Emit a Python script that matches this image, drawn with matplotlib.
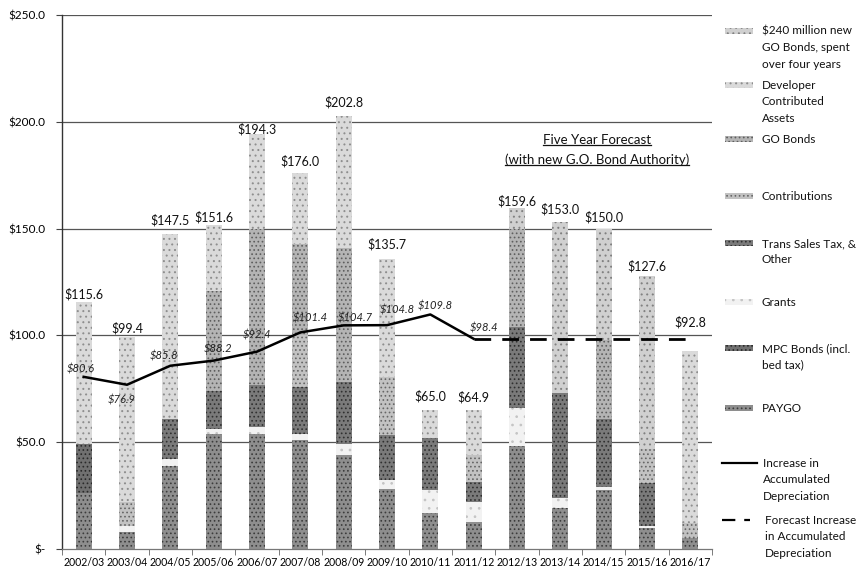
import matplotlib
matplotlib.use('Agg')
import matplotlib.pyplot as plt
from matplotlib.patches import Rectangle
from matplotlib.lines import Line2D
import numpy as np

plt.rcParams['font.family'] = ['Lato', 'DejaVu Sans']
plt.rcParams['hatch.linewidth'] = 0.7

# ---------------- data ----------------
years = ['2002/03', '2003/04', '2004/05', '2005/06', '2006/07', '2007/08', '2008/09',
         '2009/10', '2010/11', '2011/12', '2012/13', '2013/14', '2014/15', '2015/16', '2016/17']

paygo   = [26.0, 8.0, 39.0, 54.0, 54.0, 51.0, 44.0, 28.0, 17.0, 12.6, 48.0, 19.0, 27.6, 10.0, 5.0]
mpc     = [23.0, 0.0, 0.0, 0.0, 0.0, 0.0, 0.0, 0.0, 0.0, 0.0, 0.0, 0.0, 0.0, 0.0, 0.0]
grants  = [0.0, 2.7, 3.0, 2.0, 3.0, 3.0, 5.0, 4.5, 10.6, 9.4, 18.0, 5.0, 1.5, 1.0, 0.0]
trans   = [0.0, 0.0, 19.0, 18.0, 20.0, 22.0, 29.0, 21.0, 24.4, 9.3, 38.0, 49.0, 31.6, 20.0, 0.0]
contrib = [0.0, 11.3, 0.0, 0.0, 0.0, 24.0, 0.0, 27.0, 0.0, 12.7, 0.0, 0.0, 0.0, 16.0, 7.0]
gobonds = [0.0, 0.0, 0.0, 47.0, 73.0, 43.0, 63.0, 0.0, 0.0, 0.0, 45.6, 0.0, 37.0, 0.0, 0.0]
devel   = [66.6, 77.4, 86.5, 30.6, 44.3, 33.0, 61.8, 55.2, 13.0, 20.9, 0.0, 0.0, 0.0, 0.0, 80.8]
newgo   = [0.0, 0.0, 0.0, 0.0, 0.0, 0.0, 0.0, 0.0, 0.0, 0.0, 10.0, 80.0, 52.3, 80.6, 0.0]

depreciation = [80.6, 76.9, 85.8, 88.2, 92.4, 101.4, 104.7, 104.8, 109.8, 98.4]
forecast_years = ['2011/12', '2012/13', '2013/14', '2014/15', '2015/16', '2016/17']
forecast_depr = [98.4, 98.4, 98.4, 98.4, 98.4, 98.4]

ytick_vals = [0, 50, 100, 150, 200, 250]
ytick_labels = ['$-', '$50.0', '$100.0', '$150.0', '$200.0', '$250.0']

# ---------------- styles / layout ----------------
series = [
    ('PAYGO', paygo, '#8e8e8e', '#3c3c3c', '....'),
    ('MPC Bonds (incl.\nbed tax)', mpc, '#707070', '#2a2a2a', '....'),
    ('Grants', grants, '#f2f2f2', '#c4c4c4', '..'),
    ('Trans Sales Tax, &\nOther', trans, '#7a7a7a', '#303030', '....'),
    ('Contributions', contrib, '#c2c2c2', '#666666', '....'),
    ('GO Bonds', gobonds, '#b4b4b4', '#5e5e5e', '....'),
    ('Developer\nContributed\nAssets', devel, '#dadada', '#8e8e8e', '...'),
    ('$240 million new\nGO Bonds, spent\nover four years', newgo, '#d0d0d0', '#808080', '...'),
]

total_offsets = [8, 8, 14, 8, 5, 12, 14, 15, 14, 13, 7, 13, 11, 10, 29]
line_label_offsets = [(-3, 8), (-5, -15), (-6, 10), (4, 12), (0, 17),
                      (10, 14), (12, 7), (10, 15), (5, 8), (10, 11)]

W, H = 859, 572
fig = plt.figure(figsize=(W / 100, H / 100), dpi=100)
ax = fig.add_axes([62 / W, 1 - 549 / H, (712 - 62) / W, (549 - 15) / H])

x = np.arange(len(years))
bottom = np.zeros(len(years))
for name, vals, face, hcol, hatch in series:
    v = np.array(vals)
    ax.bar(x, v, 0.37, bottom=bottom, color=face, edgecolor=hcol, hatch=hatch,
           linewidth=0, zorder=2)
    bottom += v
totals = bottom

# lines
ax.plot(x[:len(depreciation)], depreciation, color='black', lw=1.8, zorder=4,
        solid_joinstyle='round')
fx = [years.index(y) for y in forecast_years]
ax.plot(fx, forecast_depr, color='black', lw=2.0, dashes=(6, 4), zorder=4)

# total labels
for xi, t, off in zip(x, totals, total_offsets):
    ax.annotate(f'${t:.1f}', (xi, t), xytext=(0, off), textcoords='offset pixels',
                ha='center', va='center', fontsize=9, color='#111111', zorder=5)

# depreciation labels
for xi, v, (dx, dy) in zip(x, depreciation, line_label_offsets):
    ax.annotate(f'${v:.1f}', (xi, v), xytext=(dx, dy), textcoords='offset pixels',
                ha='center', va='center', fontsize=8, style='italic', color='#222222', zorder=5)

# axes styling
ax.set_xlim(-0.5, len(years) - 0.5)
ax.set_ylim(0, 250)
ax.set_yticks(ytick_vals)
ax.set_yticklabels(ytick_labels, fontsize=8.5)
ax.set_xticks(x)
ax.set_xticklabels(years, fontsize=7.6)
ax.set_xticks(np.arange(-0.5, len(years), 1.0), minor=True)
ax.tick_params(axis='x', which='major', length=0, pad=6)
ax.tick_params(axis='x', which='minor', length=4, direction='out', color='#666666')
ax.tick_params(axis='y', length=4, direction='out', color='#444444', pad=8)
for yv in ytick_vals[1:]:
    ax.axhline(yv, color='#555555', lw=0.9, zorder=1)
ax.spines['top'].set_visible(False)
ax.spines['right'].set_visible(False)
ax.spines['left'].set_color('#333333')
ax.spines['left'].set_linewidth(1.0)
ax.spines['bottom'].set_color('#777777')
ax.spines['bottom'].set_linewidth(0.9)

# forecast annotation (underlined)
t1 = fig.text(597 / W, 1 - 140 / H, 'Five Year Forecast', ha='center', va='center',
              fontsize=9.5, color='#111111')
t2 = fig.text(597 / W, 1 - 160 / H, '(with new G.O. Bond Authority)', ha='center',
              va='center', fontsize=9.5, color='#111111')
fig.canvas.draw()
r = fig.canvas.get_renderer()
for t in (t1, t2):
    bb = t.get_window_extent(r)
    yline = bb.y0 + 1
    fig.add_artist(Line2D([bb.x0 / W, bb.x1 / W], [yline / H, yline / H],
                          transform=fig.transFigure, color='#111111', lw=0.9))

# legend (manual, right side)
LFS = 8.5
LSP = 1.6
legend_y = [31, 85, 139, 196, 243, 302, 348, 408, 463, 520]
legend_items = list(reversed(series))
for (name, vals, face, hcol, hatch), yy in zip(legend_items, legend_y[:8]):
    fig.add_artist(Rectangle((725 / W, 1 - (yy + 3) / H), 28 / W, 6 / H,
                             transform=fig.transFigure, facecolor=face, edgecolor=hcol,
                             hatch=hatch, linewidth=0))
    fig.text(762 / W, 1 - (yy - 5) / H, name, ha='left', va='top', fontsize=LFS,
             linespacing=LSP, color='#111111')

yy = legend_y[8]
fig.add_artist(Line2D([722 / W, 757 / W], [1 - yy / H] * 2, transform=fig.transFigure,
                      color='black', lw=1.6))
fig.text(763 / W, 1 - (yy - 5) / H, 'Increase in\nAccumulated\nDepreciation', ha='left',
         va='top', fontsize=LFS, linespacing=LSP, color='#111111')
yy = legend_y[9]
fig.add_artist(Line2D([722 / W, 750 / W], [1 - yy / H] * 2, transform=fig.transFigure,
                      color='black', lw=1.6, dashes=(6, 4)))
fig.text(765 / W, 1 - (yy - 5) / H, 'Forecast Increase\nin Accumulated\nDepreciation',
         ha='left', va='top', fontsize=LFS, linespacing=LSP, color='#111111')

fig.savefig('out.png', dpi=100, facecolor='white')
